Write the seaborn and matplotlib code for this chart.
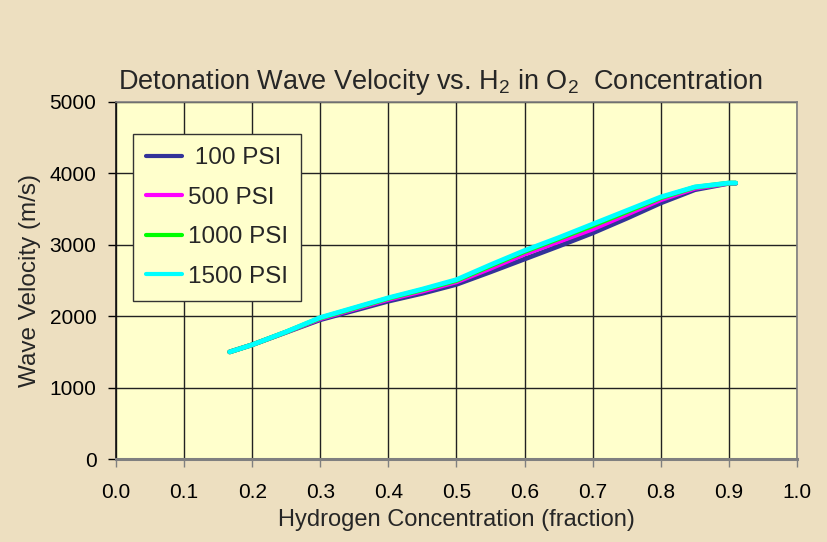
import pandas as pd
import matplotlib.pyplot as plt
import seaborn as sns

# H2 fraction in O2 (same sample points for every pressure)
h2_frac = [0.167, 0.20, 0.25, 0.30, 0.35, 0.40, 0.45, 0.50, 0.55,
           0.60, 0.65, 0.70, 0.75, 0.80, 0.85, 0.90, 0.91]

# detonation wave velocity (m/s)
vel_100 = [1500, 1600, 1775, 1950, 2080, 2210, 2320, 2445, 2620,
           2800, 2980, 3165, 3370, 3585, 3770, 3860, 3860]
vel_500 = [1500, 1600, 1778, 1965, 2100, 2235, 2350, 2480, 2670,
           2870, 3045, 3220, 3425, 3630, 3790, 3862, 3862]
vel_1000 = [1500, 1600, 1780, 1975, 2112, 2250, 2370, 2500, 2705,
            2905, 3085, 3268, 3462, 3658, 3805, 3864, 3864]
vel_1500 = [1500, 1600, 1782, 1982, 2120, 2258, 2380, 2512, 2720,
            2920, 3100, 3290, 3480, 3670, 3810, 3865, 3865]

series_names = [" 100 PSI", "500 PSI", "1000 PSI", "1500 PSI"]
series_vals = [vel_100, vel_500, vel_1000, vel_1500]
colors = ["#333399", "#FF00FF", "#00FF00", "#00FFFF"]

x_ticks = [i / 10 for i in range(11)]
y_ticks = [0, 1000, 2000, 3000, 4000, 5000]

rows = []
for name, vals in zip(series_names, series_vals):
    for x, v in zip(h2_frac, vals):
        rows.append({"h2": x, "velocity": v, "pressure": name})
df = pd.DataFrame(rows)

sns.set_theme(style="ticks")
plt.rcParams["font.family"] = ["Liberation Sans", "DejaVu Sans"]

fig = plt.figure(figsize=(8.28, 5.42), dpi=100)
fig.patch.set_facecolor("#EDDFC0")
ax = fig.add_axes([0.140, 0.153, 0.8226, 0.659])
ax.set_facecolor("#FFFFCC")

sns.lineplot(data=df, x="h2", y="velocity", hue="pressure",
             hue_order=series_names, palette=colors, linewidth=3.4,
             sort=False, ax=ax, solid_capstyle="round",
             solid_joinstyle="round")

ax.set_xlim(0, 1.0)
ax.set_ylim(0, 5000)
ax.set_xticks(x_ticks)
ax.set_xticklabels([f"{t:.1f}" for t in x_ticks])
ax.set_yticks(y_ticks)
ax.grid(True, color="#222222", linewidth=1.0)
ax.set_axisbelow(True)

for side in ["top", "right"]:
    ax.spines[side].set_visible(True)
    ax.spines[side].set_color("#808080")
    ax.spines[side].set_linewidth(1.2)
ax.spines["bottom"].set_color("#808080")
ax.spines["bottom"].set_linewidth(2.2)
ax.spines["left"].set_color("#111111")
ax.spines["left"].set_linewidth(1.2)

ax.tick_params(axis="both", direction="out", length=6, width=1,
               labelsize=15, colors="black", pad=8)
ax.tick_params(axis="x", color="#808080", pad=11)

ax.set_xlabel("Hydrogen Concentration (fraction)", fontsize=17, labelpad=5)
ax.set_ylabel("Wave Velocity (m/s)", fontsize=17.5, labelpad=6)
ax.set_title(r"Detonation Wave Velocity vs. H$_\mathregular{2}$ in O$_\mathregular{2}$  Concentration",
             fontsize=19.5, pad=9, x=0.476)

leg = ax.legend(loc="upper left", bbox_to_anchor=(0.025, 0.91), fontsize=17.5,
                frameon=True, fancybox=False, facecolor="#FFFFCC",
                edgecolor="#333333", framealpha=1, handlelength=1.45,
                handletextpad=0.25, labelspacing=0.72, borderpad=0.55,
                borderaxespad=0)
leg.get_frame().set_linewidth(1.0)
for line in leg.get_lines():
    line.set_linewidth(3)

fig.savefig("out.png", dpi=100, facecolor=fig.get_facecolor())
